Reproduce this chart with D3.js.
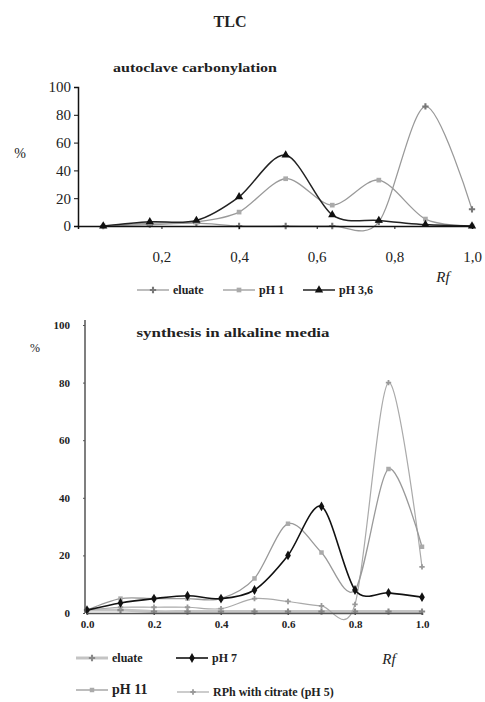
<!DOCTYPE html>
<html>
<head>
<meta charset="utf-8">
<script src="https://cdn.jsdelivr.net/npm/d3@7"></script>
<style>
  body { margin: 0; background: #fff; }
  svg { display: block; }
  text { font-family: "Liberation Serif", "DejaVu Serif", serif; fill: #222; }
</style>
</head>
<body>
<svg id="chart" width="485" height="702"></svg>
<script>
// top panel: autoclave carbonylation (Rf of each TLC fraction)
var topRf = [0.05, 0.17, 0.29, 0.40, 0.52, 0.64, 0.76, 0.88, 1.0];
var topEluate = [0, 1, 2, 0, 0, 0, 3, 86, 12];
var topPH1 = [0, 2, 3, 10, 34, 15, 33, 5, 0];
var topPH36 = [0, 3, 4, 21, 51, 8, 4, 1, 0];
var topXTicks = [0.2, 0.4, 0.6, 0.8, 1.0];
var topYTicks = [0, 20, 40, 60, 80, 100];

// bottom panel: synthesis in alkaline media
var botRf = [0.0, 0.1, 0.2, 0.3, 0.4, 0.5, 0.6, 0.7, 0.8, 0.9, 1.0];
var botEluate = [1, 1, 0.5, 0.5, 0.5, 0.5, 0.5, 0.5, 0.5, 0.5, 0.5];
var botPH7 = [1, 3.5, 5, 6, 5, 8, 20, 37, 8, 7, 5.5];
var botPH11 = [1, 5, 5, 5, 5, 12, 31, 21, 8, 50, 23];
var botRPh = [1, 2, 2, 2, 1.5, 5, 4, 2.5, 3, 80, 16];
var botXTicks = [0, 0.2, 0.4, 0.6, 0.8, 1.0];
var botYTicks = [0, 20, 40, 60, 80, 100];

var svg = d3.select("#chart");

function drawSeries(g, xs, ys, x, y, st) {
  var pts = xs.map(function(v, i) { return [x(v), y(ys[i])]; });
  var line = d3.line().curve(d3.curveCardinal.tension(0.1));
  g.append("path")
    .attr("d", line(pts))
    .attr("fill", "none")
    .attr("stroke", st.color)
    .attr("stroke-width", st.width);
  g.selectAll(null).data(pts).enter().append("path")
    .attr("transform", function(p) { return "translate(" + p[0] + "," + p[1] + ")"; })
    .attr("d", d3.symbol().type(st.symbol).size(st.size))
    .attr("fill", st.fill);
}

function legendItem(g, lx, ly, label, st, fs) {
  g.append("line")
    .attr("x1", lx).attr("x2", lx + 32).attr("y1", ly).attr("y2", ly)
    .attr("stroke", st.color).attr("stroke-width", st.width);
  g.append("path")
    .attr("transform", "translate(" + (lx + 16) + "," + ly + ")")
    .attr("d", d3.symbol().type(st.symbol).size(st.size))
    .attr("fill", st.fill);
  g.append("text")
    .attr("x", lx + 36).attr("y", ly + 4)
    .attr("font-size", fs || 12)
    .attr("font-weight", "bold")
    .text(label);
}

// ---- top panel ----
svg.append("text").attr("x", 230).attr("y", 27)
  .attr("text-anchor", "middle").attr("font-size", 16).attr("font-weight", "bold").text("TLC");
svg.append("text").attr("x", 195).attr("y", 72)
  .attr("text-anchor", "middle").attr("font-size", 13).attr("font-weight", "bold")
  .attr("textLength", 164).attr("lengthAdjust", "spacingAndGlyphs")
  .text("autoclave carbonylation");

var xTop = d3.scaleLinear().domain([-0.015, 1]).range([78, 472]);
var yTop = d3.scaleLinear().domain([0, 100]).range([226, 87]);

var topG = svg.append("g");
var topEl = {color: "#999", width: 1.3, symbol: d3.symbolCross, size: 22, fill: "#777"};
var topP1 = {color: "#9a9a9a", width: 1.3, symbol: d3.symbolSquare, size: 22, fill: "#aaa"};
var topP36 = {color: "#222", width: 1.5, symbol: d3.symbolTriangle, size: 30, fill: "#111"};

drawSeries(topG, topRf, topEluate, xTop, yTop, topEl);
drawSeries(topG, topRf, topPH1, xTop, yTop, topP1);
drawSeries(topG, topRf, topPH36, xTop, yTop, topP36);

var yAxTop = topG.append("g").attr("transform", "translate(78,0)")
  .call(d3.axisLeft(yTop).tickValues(topYTicks).tickSize(4).tickPadding(3));
var xAxTop = topG.append("g").attr("transform", "translate(0,226)")
  .call(d3.axisBottom(xTop).tickValues(topXTicks).tickSize(3).tickPadding(22)
    .tickFormat(function(d) { return d3.format(".1f")(d).replace(".", ","); }));
[yAxTop, xAxTop].forEach(function(a) {
  a.select(".domain").attr("stroke", "#111").attr("stroke-width", 1.5);
  a.selectAll(".tick line").attr("stroke", "#111");
  a.selectAll(".tick text").attr("font-family", "Liberation Sans, Arial, sans-serif")
    .attr("font-size", 15).attr("fill", "#333");
});
topG.append("text").attr("x", 20).attr("y", 158).attr("text-anchor", "middle")
  .attr("font-size", 14).text("%");
topG.append("text").attr("x", 443).attr("y", 282).attr("text-anchor", "middle")
  .attr("font-size", 15).attr("font-style", "italic").text("Rf");

legendItem(topG, 137, 290, "eluate", topEl);
legendItem(topG, 223, 290, "pH 1", topP1);
legendItem(topG, 303, 290, "pH 3,6", topP36);

// ---- bottom panel ----
svg.append("text").attr("x", 233).attr("y", 337)
  .attr("text-anchor", "middle").attr("font-size", 13).attr("font-weight", "bold")
  .attr("textLength", 193).attr("lengthAdjust", "spacingAndGlyphs")
  .text("synthesis in alkaline media");

var xBot = d3.scaleLinear().domain([0, 1]).range([87, 422]);
var yBot = d3.scaleLinear().domain([0, 100]).range([613, 325]);

var botG = svg.append("g");
var botEl = {color: "#c4c4c4", width: 3, symbol: d3.symbolCross, size: 22, fill: "#888"};
var botP7 = {color: "#111", width: 1.6, symbol: d3.symbolDiamond, size: 28, fill: "#111"};
var botP11 = {color: "#999", width: 1.3, symbol: d3.symbolSquare, size: 20, fill: "#aaa"};
var botRP = {color: "#aaa", width: 1.2, symbol: d3.symbolCross, size: 16, fill: "#999"};

drawSeries(botG, botRf, botEluate, xBot, yBot, botEl);
drawSeries(botG, botRf, botRPh, xBot, yBot, botRP);
drawSeries(botG, botRf, botPH11, xBot, yBot, botP11);
drawSeries(botG, botRf, botPH7, xBot, yBot, botP7);

var yAxBot = botG.append("g").attr("transform", "translate(85,0)")
  .call(d3.axisLeft(yBot).tickValues(botYTicks).tickSize(2).tickPadding(13));
yAxBot.select(".domain").attr("d", "M0,613V320");
var xAxBot = botG.append("g").attr("transform", "translate(0,613)")
  .call(d3.axisBottom(xBot).tickValues(botXTicks).tickSize(2).tickPadding(5)
    .tickFormat(d3.format(".1f")));
[yAxBot, xAxBot].forEach(function(a) {
  a.select(".domain").attr("stroke", "#555").attr("stroke-width", 1.5);
  a.selectAll(".tick line").attr("stroke", "#555");
  a.selectAll(".tick text").attr("font-size", 11).attr("font-weight", "bold").attr("fill", "#444");
});
botG.append("text").attr("x", 35).attr("y", 352).attr("text-anchor", "middle")
  .attr("font-size", 12).text("%");
botG.append("text").attr("x", 389).attr("y", 664).attr("text-anchor", "middle")
  .attr("font-size", 15).attr("font-style", "italic").text("Rf");

legendItem(botG, 76, 658, "eluate", botEl);
legendItem(botG, 176, 658, "pH 7", botP7);
legendItem(botG, 76, 690, "pH 11", botP11, 14);
legendItem(botG, 177, 692, "RPh with citrate (pH 5)", botRP, 12);
</script>
</body>
</html>
